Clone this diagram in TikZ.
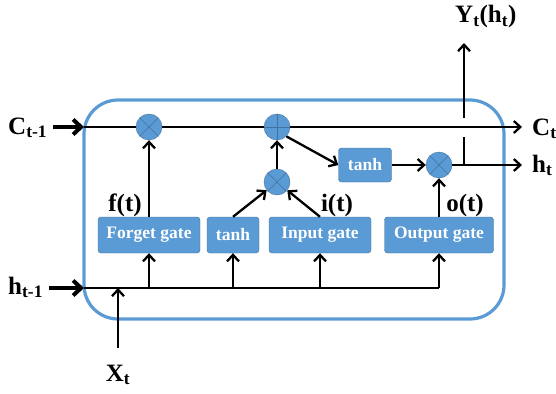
\documentclass[tikz,border=0pt]{standalone}
\usepackage{fontspec}
\setmainfont{Liberation Serif}
\usetikzlibrary{arrows.meta}
\definecolor{cell}{HTML}{5B9BD5}
\definecolor{celledge}{HTML}{41719C}
\tikzset{
  gatebox/.style={draw=celledge,fill=cell,rounded corners=3pt,text=white,
    font=\bfseries\fontsize{17.5}{18}\selectfont,minimum height=36pt,inner sep=0pt},
  opnode/.style={circle,draw=celledge,fill=cell,minimum size=26pt,inner sep=0pt},
  multnode/.style={opnode,path picture={
    \draw[celledge,line width=0.6pt]
      (path picture bounding box.north west) -- (path picture bounding box.south east)
      (path picture bounding box.north east) -- (path picture bounding box.south west);}},
  addnode/.style={opnode,path picture={
    \draw[celledge,line width=0.6pt]
      (path picture bounding box.north) -- (path picture bounding box.south)
      (path picture bounding box.west) -- (path picture bounding box.east);}},
  wire/.style={line width=2.3pt},
  flow/.style={wire,-{Straight Barb[length=6.5pt,width=12pt]}},
  feed/.style={line width=4pt,-{Straight Barb[length=8pt,width=15pt]}},
  lab/.style={font=\bfseries\fontsize{25}{28}\selectfont,inner sep=2pt}
}
\begin{document}
\begin{tikzpicture}[x=1pt,y=-1pt]
  \useasboundingbox (0,0) rectangle (556,393);
  % cell outline
  \draw[cell,line width=3.2pt,rounded corners=34pt] (84,100) rectangle (504,319);
  % gates
  \node[gatebox,minimum width=102pt] (fg) at (149,235) {Forget gate};
  \node[gatebox,minimum width=52pt]  (tg) at (233,235) {tanh};
  \node[gatebox,minimum width=102pt] (ig) at (320,235) {Input gate};
  \node[gatebox,minimum width=109pt] (og) at (439,235) {Output gate};
  \node[gatebox,minimum width=53pt,minimum height=34pt] (th) at (365,165) {tanh};
  % pointwise ops
  \node[multnode] (fx) at (149,127) {};
  \node[addnode] (add) at (277,127) {};
  \node[multnode] (ix) at (277,182) {};
  \node[multnode] (ox) at (439,165) {};
  % labels
  \node[lab,anchor=base west] (cin) at (6,134) {C\textsubscript{t-1}};
  \node[lab,anchor=base west] (hin) at (6,294) {h\textsubscript{t-1}};
  \node[lab,anchor=base] (xin) at (118,381) {X\textsubscript{t}};
  \node[lab,anchor=base west] (cout) at (530,135) {C\textsubscript{t}};
  \node[lab,anchor=base west] (hout) at (530,172) {h\textsubscript{t}};
  \node[lab,anchor=base west] (yout) at (453,23) {Y\textsubscript{t}(h\textsubscript{t})};
  \node[lab,anchor=base] (fl) at (125,211) {f(t)};
  \node[lab,anchor=base] (il) at (337,211) {i(t)};
  \node[lab,anchor=base] (ol) at (465,211) {o(t)};
  % free ends
  \coordinate (cleft) at (84,127);
  \coordinate (hleft) at (84,288);
  \coordinate (ctip) at (522,127);
  \coordinate (htip) at (522,165);
  \coordinate (yfoot) at (464,165);
  \coordinate (ygap) at (464,137);
  \coordinate (yrise) at (464,118);
  \coordinate (ytop) at (464,43);
  % inputs
  \draw[feed] ([xshift=4pt]cin.east |- cleft) -- (cleft);
  \draw[feed] ([xshift=4pt]hin.east |- hleft) -- (hleft);
  \draw[flow] ([yshift=14pt]xin.north) -- (xin.north |- hleft);
  % cell state and hidden line
  \draw[wire] (cleft) -- (fx) (fx) -- (add);
  \draw[flow] (add) -- (ctip);
  \draw[wire] (hleft) -- (hleft -| og);
  \foreach \g in {fg,tg,ig,og}
    \draw[flow] (hleft -| \g) -- (\g.south);
  % gate outputs
  \draw[flow] (fg.north) -- (fx);
  \draw[flow] (tg.north) -- (ix);
  \draw[flow] (ig.north) -- (ix);
  \draw[flow] (og.north) -- (ox);
  \draw[flow] (ix) -- (add);
  \draw[flow] (add.south east) -- (th.west);
  \draw[flow] (th) -- (ox);
  \draw[flow] (ox) -- (htip);
  \draw[wire] (yfoot) -- (ygap);
  \draw[flow] (yrise) -- (ytop);
\end{tikzpicture}
\end{document}
